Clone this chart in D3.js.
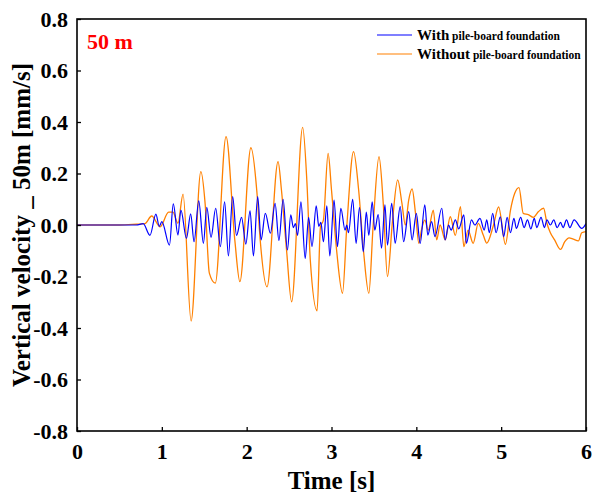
<html>
<head>
<script src="https://cdn.jsdelivr.net/npm/d3@7"></script>
<style>
  body { margin: 0; background: #fff; }
  text { font-family: "Liberation Serif", "Times New Roman", serif; font-weight: bold; }
</style>
</head>
<body>
<svg width="592" height="496"></svg>
<script>
// time [s] and vertical velocity [mm/s]
var tWith = [0,0.7,0.78,0.86,0.93,0.97,1.0,1.09,1.135,1.19,1.225,1.29,1.34,1.38,1.435,1.49,1.53,1.58,1.635,1.69,1.74,1.785,1.835,1.88,1.94,1.99,2.04,2.08,2.13,2.17,2.22,2.28,2.335,2.38,2.43,2.48,2.52,2.55,2.575,2.6,2.64,2.69,2.73,2.77,2.82,2.85,2.875,2.905,2.945,2.98,3.03,3.07,3.11,3.16,3.18,3.2,3.25,3.29,3.33,3.375,3.41,3.44,3.48,3.51,3.55,3.59,3.63,3.66,3.71,3.75,3.81,3.85,3.91,3.95,4.0,4.045,4.1,4.135,4.18,4.22,4.3,4.34,4.38,4.41,4.46,4.5,4.56,4.59,4.65,4.69,4.75,4.8,4.83,4.86,4.9,4.94,4.99,5.03,5.07,5.11,5.15,5.18,5.23,5.27,5.31,5.35,5.39,5.42,5.47,5.51,5.54,5.58,5.62,5.66,5.7,5.73,5.77,5.81,5.86,5.95,6.0]
var vWith = [0,0,0.005,-0.04,0.042,-0.005,0.013,-0.078,0.082,-0.039,0.058,-0.052,0.043,-0.065,0.094,-0.071,0.069,-0.048,0.065,-0.084,0.09,-0.12,0.11,-0.04,0.03,-0.074,0.055,-0.12,0.11,-0.058,0.045,-0.032,0.084,-0.06,0.1,-0.097,0.039,-0.01,0.005,-0.04,0.09,-0.13,0.03,-0.084,0.074,-0.005,0.01,-0.065,0.074,-0.12,0.097,-0.084,0.065,-0.02,0.0,-0.03,0.1,-0.071,0.068,-0.104,0.05,-0.04,0.09,-0.02,0.04,-0.09,0.078,-0.078,0.084,-0.071,0.071,-0.065,0.052,-0.058,0.045,-0.071,0.078,-0.039,0.013,-0.045,0.065,-0.058,0.0,-0.02,0.02,-0.015,0.039,-0.071,0.02,0.0,0.026,-0.02,0.02,-0.03,0.045,-0.03,0.032,-0.045,0.03,-0.03,0.026,-0.013,0.03,-0.01,0.02,-0.015,0.026,-0.01,0.03,-0.01,0.02,0.0,0.02,-0.01,0.01,-0.01,0.02,-0.01,0.02,-0.013,0.006]

var tWithout = [0,0.5,0.7,0.8,0.88,0.98,1.08,1.13,1.19,1.25,1.345,1.46,1.51,1.56,1.63,1.757,1.86,1.92,2.05,2.12,2.16,2.24,2.37,2.41,2.47,2.53,2.66,2.71,2.75,2.83,2.87,2.905,2.96,3.0,3.06,3.13,3.18,3.26,3.32,3.38,3.44,3.49,3.56,3.61,3.66,3.72,3.78,3.83,3.87,3.91,3.95,3.99,4.03,4.06,4.1,4.14,4.2,4.24,4.28,4.34,4.4,4.46,4.52,4.56,4.61,4.67,4.73,4.79,4.83,4.91,4.97,5.05,5.11,5.16,5.21,5.26,5.32,5.38,5.44,5.5,5.54,5.58,5.63,5.7,5.75,5.8,5.85,5.91,5.95,6.0]
var vWithout = [0,0,0.003,0.005,0.035,-0.007,0.05,0.05,0.007,0.12,-0.373,0.207,0.084,-0.187,-0.226,0.343,-0.058,-0.22,0.3,0.13,-0.06,-0.24,0.246,0.136,-0.097,-0.298,0.379,0.168,-0.136,-0.333,-0.007,0.02,0.278,0.136,-0.097,-0.265,-0.007,0.285,0.136,-0.11,-0.265,-0.007,0.265,0.084,-0.2,0.02,0.175,0.085,0.0,0.097,0.14,0.046,-0.071,-0.02,0.019,-0.02,0.058,-0.058,0.0,-0.058,0.032,-0.04,0.071,-0.084,-0.02,-0.071,0.006,-0.04,-0.07,0.0,0.07,-0.075,0.058,0.123,0.145,0.045,0.04,0.03,0.052,0.065,0.006,-0.03,-0.058,-0.095,-0.065,-0.05,-0.055,-0.062,-0.03,-0.026]

var xTicks = [0,1,2,3,4,5,6]
var yTicks = [-0.8,-0.6,-0.4,-0.2,0,0.2,0.4,0.6,0.8]

var pLeft = 77, pRight = 586, pTop = 19, pBottom = 431

var svg = d3.select('svg')

var x = d3.scaleLinear().domain([0,6]).range([pLeft,pRight])
var y = d3.scaleLinear().domain([-0.8,0.8]).range([pBottom,pTop])

svg.append('clipPath').attr('id','plot')
  .append('rect')
  .attr('x',pLeft).attr('y',pTop)
  .attr('width',pRight-pLeft).attr('height',pBottom-pTop)

var line = d3.line()
  .x(function(d){ return x(d[0]) })
  .y(function(d){ return y(d[1]) })
  .curve(d3.curveMonotoneX)

var lines = svg.append('g').attr('clip-path','url(#plot)')

lines.append('path')
  .datum(d3.zip(tWithout, vWithout))
  .attr('d', line)
  .attr('fill','none')
  .attr('stroke','#ff8000')
  .attr('stroke-width',1.3)

lines.append('path')
  .datum(d3.zip(tWith, vWith))
  .attr('d', line)
  .attr('fill','none')
  .attr('stroke','#0000ff')
  .attr('stroke-width',1.2)

// axes, ticks pointing inwards
svg.append('g')
  .attr('transform','translate(0,' + pBottom + ')')
  .call(d3.axisBottom(x).tickValues(xTicks).tickSizeInner(-4).tickSizeOuter(0).tickPadding(12)
    .tickFormat(function(d){ return d }))
svg.append('g')
  .attr('transform','translate(' + pLeft + ',0)')
  .call(d3.axisLeft(y).tickValues(yTicks).tickSizeInner(-4).tickSizeOuter(0).tickPadding(9)
    .tickFormat(function(d){ return d.toFixed(1) }))

svg.selectAll('.domain').remove()
svg.selectAll('.tick line').attr('stroke','#000').attr('stroke-width',1.3)
svg.selectAll('.tick text')
  .attr('font-family','"Liberation Serif", serif')
  .attr('font-weight','bold')
  .attr('font-size',22)
  .attr('fill','#000')

svg.append('rect')
  .attr('x',pLeft).attr('y',pTop)
  .attr('width',pRight-pLeft).attr('height',pBottom-pTop)
  .attr('fill','none').attr('stroke','#000').attr('stroke-width',1.6)

// titles
svg.append('text')
  .attr('x',(pLeft+pRight)/2).attr('y',489)
  .attr('text-anchor','middle').attr('font-size',25)
  .text('Time [s]')

svg.append('text')
  .attr('transform','translate(30,' + (pTop+pBottom)/2 + ') rotate(-90)')
  .attr('text-anchor','middle').attr('font-size',25)
  .text('Vertical velocity _ 50m [mm/s]')

svg.append('text')
  .attr('x',87).attr('y',49)
  .attr('font-size',22).attr('fill','#ff0000')
  .text('50 m')

// legend
var legend = [
  {name:'With', color:'#0000ff', y:35},
  {name:'Without', color:'#ff8000', y:54}
]
var lg = svg.selectAll('.leg').data(legend).enter().append('g').attr('class','leg')
lg.append('line')
  .attr('x1',377).attr('x2',412)
  .attr('y1',function(d){ return d.y }).attr('y2',function(d){ return d.y })
  .attr('stroke',function(d){ return d.color }).attr('stroke-width',1.2)
var lt = lg.append('text')
  .attr('x',417).attr('y',function(d){ return d.y + 5 })
lt.append('tspan').attr('font-size',15).text(function(d){ return d.name })
lt.append('tspan').attr('font-size',11.5).text(' pile-board foundation')
</script>
</body>
</html>
